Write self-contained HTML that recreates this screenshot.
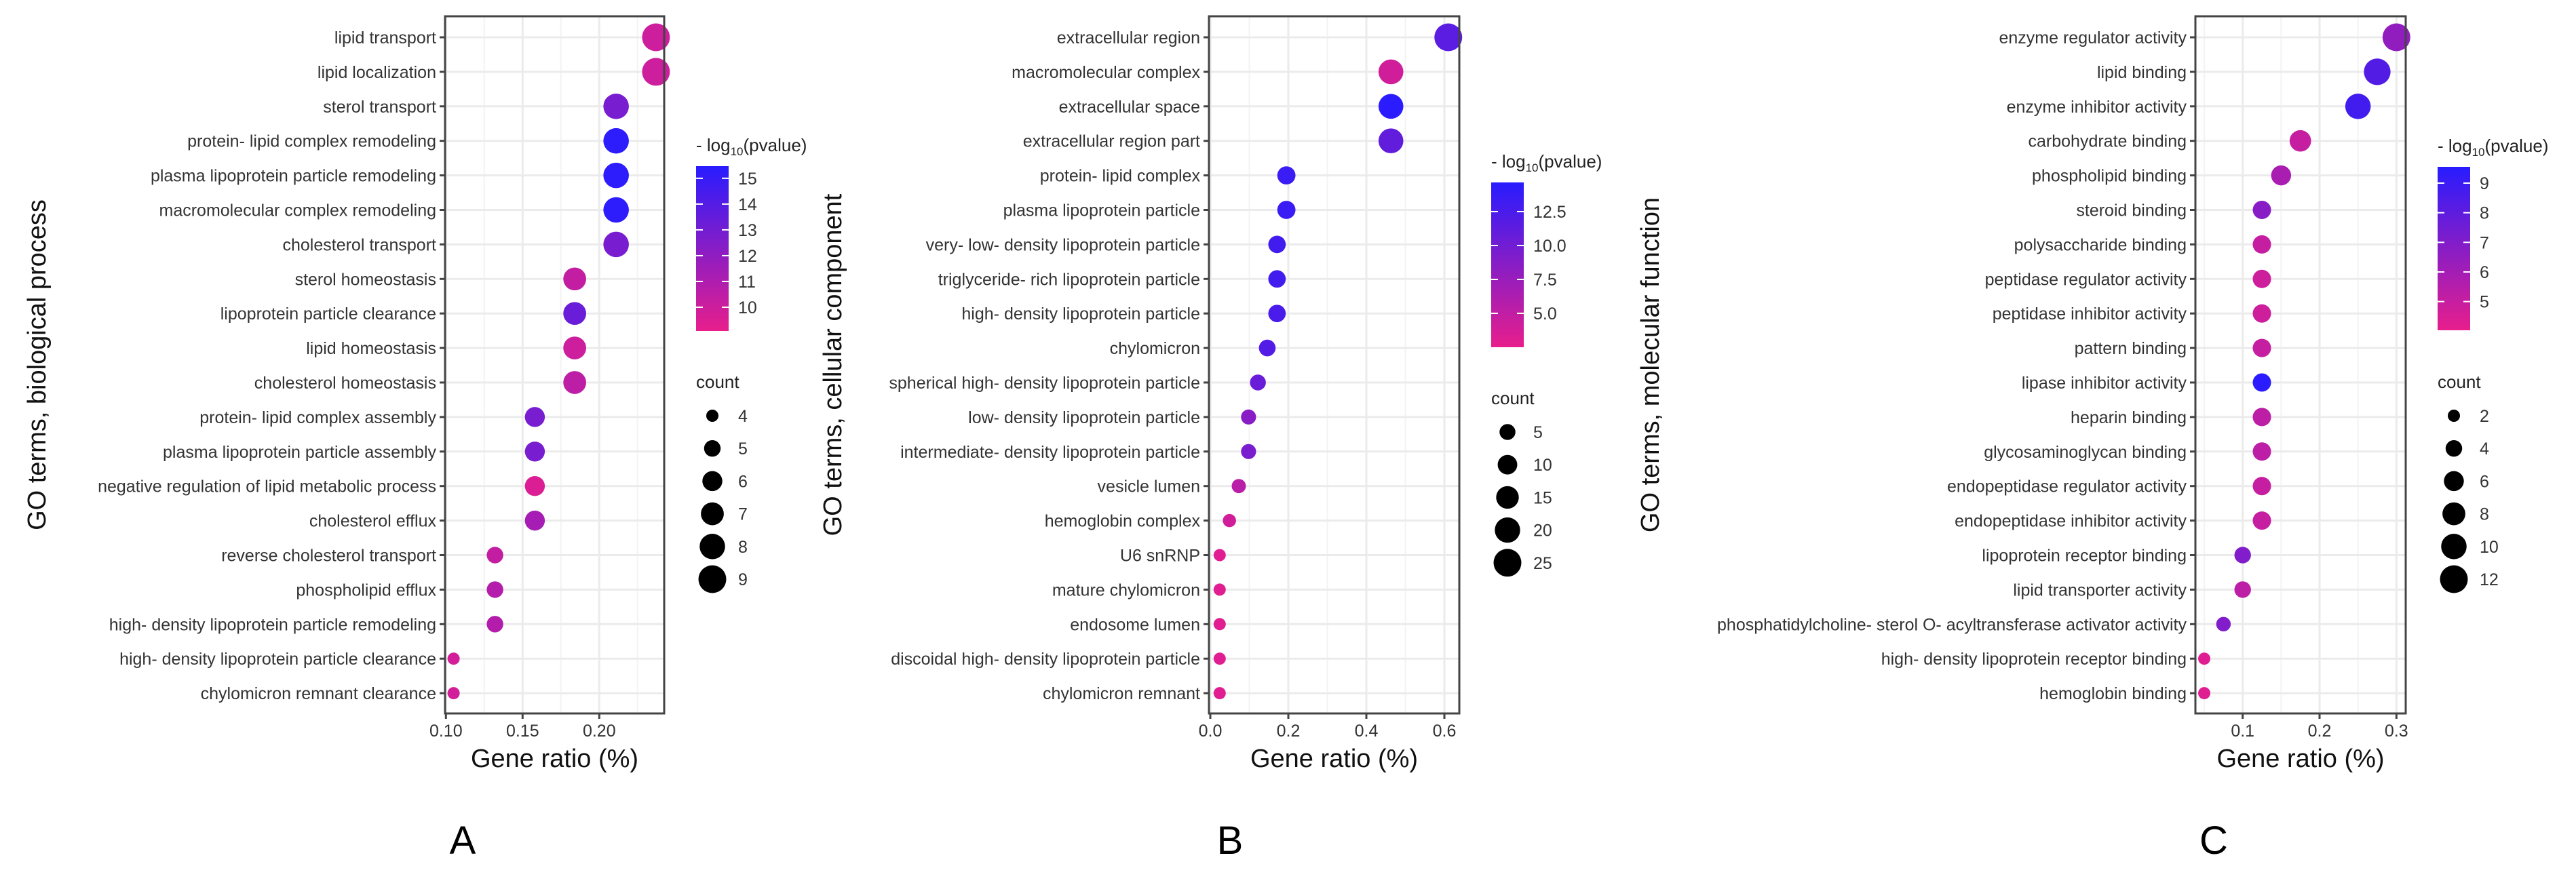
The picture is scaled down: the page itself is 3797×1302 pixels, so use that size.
<!DOCTYPE html>
<html><head><meta charset="utf-8"><style>
html,body{margin:0;padding:0;background:#fff;}
svg{display:block;font-family:"Liberation Sans",Arial,sans-serif;}
</style></head><body>
<svg id="fig" width="3797" height="1302" viewBox="0 0 3797 1302" xmlns="http://www.w3.org/2000/svg">
<defs>
<linearGradient id="cbar" x1="0" y1="1" x2="0" y2="0"><stop offset="0" stop-color="rgb(232,30,140)"/><stop offset="1" stop-color="rgb(40,28,255)"/></linearGradient>
<clipPath id="clipA"><rect x="1000" y="150" width="196" height="120"/></clipPath>
</defs>
</svg>
<script>
// ---------- Panel A data ----------
const termsA = ["lipid transport","lipid localization","sterol transport","protein- lipid complex remodeling","plasma lipoprotein particle remodeling","macromolecular complex remodeling","cholesterol transport","sterol homeostasis","lipoprotein particle clearance","lipid homeostasis","cholesterol homeostasis","protein- lipid complex assembly","plasma lipoprotein particle assembly","negative regulation of lipid metabolic process","cholesterol efflux","reverse cholesterol transport","phospholipid efflux","high- density lipoprotein particle remodeling","high- density lipoprotein particle clearance","chylomicron remnant clearance"];
const ratioA = [0.237,0.237,0.211,0.211,0.211,0.211,0.211,0.184,0.184,0.184,0.184,0.158,0.158,0.158,0.158,0.132,0.132,0.132,0.105,0.105];
const countA = [9,9,8,8,8,8,8,7,7,7,7,6,6,6,6,5,5,5,4,4];
const pvalA = [10.0,10.0,12.8,15.3,15.3,15.3,12.8,10.3,13.3,10.0,10.5,12.8,12.8,9.5,11.3,10.3,10.8,10.8,9.8,9.8];
const xTicksA = [0.10,0.15,0.20];
const xTickLabelsA = ["0.10","0.15","0.20"];
const cTicksA = [10,11,12,13,14,15];
const sizeBreaksA = [4,5,6,7,8,9];

// ---------- Panel B data ----------
const termsB = ["extracellular region","macromolecular complex","extracellular space","extracellular region part","protein- lipid complex","plasma lipoprotein particle","very- low- density lipoprotein particle","triglyceride- rich lipoprotein particle","high- density lipoprotein particle","chylomicron","spherical high- density lipoprotein particle","low- density lipoprotein particle","intermediate- density lipoprotein particle","vesicle lumen","hemoglobin complex","U6 snRNP","mature chylomicron","endosome lumen","discoidal high- density lipoprotein particle","chylomicron remnant"];
const ratioB = [0.61,0.463,0.463,0.463,0.195,0.195,0.171,0.171,0.171,0.146,0.122,0.098,0.098,0.073,0.049,0.024,0.024,0.024,0.024,0.024];
const countB = [25,19,19,19,8,8,7,7,7,6,5,4,4,3,2,1,1,1,1,1];
const pvalB = [11.5,4.0,14.5,11.0,13.5,13.5,13.0,13.0,12.5,12.0,10.5,8.5,9.5,5.5,4.0,3.0,3.0,3.0,3.0,3.0];
const xTicksB = [0.0,0.2,0.4,0.6];
const xTickLabelsB = ["0.0","0.2","0.4","0.6"];
const cTicksB = [5.0,7.5,10.0,12.5];
const cTickLabelsB = ["5.0","7.5","10.0","12.5"];
const sizeBreaksB = [5,10,15,20,25];

// ---------- Panel C data ----------
const termsC = ["enzyme regulator activity","lipid binding","enzyme inhibitor activity","carbohydrate binding","phospholipid binding","steroid binding","polysaccharide binding","peptidase regulator activity","peptidase inhibitor activity","pattern binding","lipase inhibitor activity","heparin binding","glycosaminoglycan binding","endopeptidase regulator activity","endopeptidase inhibitor activity","lipoprotein receptor binding","lipid transporter activity","phosphatidylcholine- sterol O- acyltransferase activator activity","high- density lipoprotein receptor binding","hemoglobin binding"];
const ratioC = [0.300,0.275,0.250,0.175,0.150,0.125,0.125,0.125,0.125,0.125,0.125,0.125,0.125,0.125,0.125,0.100,0.100,0.075,0.050,0.050];
const countC = [12,11,10,7,6,5,5,5,5,5,5,5,5,5,5,4,4,3,2,2];
const pvalC = [6.5,8.3,8.8,5.0,5.8,6.8,5.0,4.8,4.8,5.0,9.5,5.3,5.3,5.0,5.0,7.0,5.3,7.0,4.3,4.3];
const xTicksC = [0.1,0.2,0.3];
const xTickLabelsC = ["0.1","0.2","0.3"];
const cTicksC = [5,6,7,8,9];
const sizeBreaksC = [2,4,6,8,10,12];

const NS = "http://www.w3.org/2000/svg";
const svg = document.getElementById("fig");
function mk(tag, attrs, parent){
  const e = document.createElementNS(NS, tag);
  for (const k in attrs) e.setAttribute(k, attrs[k]);
  (parent||svg).appendChild(e);
  return e;
}
function colorFor(v, lo, hi){
  let t = (v-lo)/(hi-lo); t = Math.max(0, Math.min(1, t));
  const r = Math.round(232 + (40-232)*t), g = Math.round(30 + (28-30)*t), b = Math.round(140 + (255-140)*t);
  return "rgb("+r+","+g+","+b+")";
}
const ROW0 = 55, ROWSTEP = 50.9, BOXTOP = 24, BOXBOT = 1052;

function panel(cfg){
  const g = mk("g", {});
  
  
  const xs = v => cfg.x0 + (v - cfg.v0) * cfg.k;
  const ys = i => ROW0 + i * ROWSTEP;
  const rScale = c => { const t = (c - cfg.cmin)/(cfg.cmax - cfg.cmin); return Math.sqrt(81 + (420-81)*Math.max(0,t)); };
  // panel background
  mk("rect", {x:cfg.left, y:BOXTOP, width:cfg.right-cfg.left, height:BOXBOT-BOXTOP, fill:"#fff"}, g);
  // minor vertical grid
  cfg.minor.forEach(v => { const l = mk("line", {x1:xs(v), x2:xs(v), y1:BOXTOP, y2:BOXBOT, stroke:"#f3f3f3", "stroke-width":2}, g);
      });
  // major vertical grid
  cfg.xticks.forEach(v => { const l = mk("line", {x1:xs(v), x2:xs(v), y1:BOXTOP, y2:BOXBOT, stroke:"#ebebeb", "stroke-width":3}, g);
      });
  // horizontal grid per row
  cfg.terms.forEach((t,i) => { const l = mk("line", {x1:cfg.left, x2:cfg.right, y1:ys(i), y2:ys(i), stroke:"#ebebeb", "stroke-width":3}, g);
      });
  // points
  cfg.terms.forEach((t,i) => {
    const c = mk("circle", {cx:xs(cfg.ratio[i]), cy:ys(i), r:rScale(cfg.count[i]).toFixed(2), fill:colorFor(cfg.pval[i], cfg.plo, cfg.phi)}, g);
    
    
  });
  // box
  const box = mk("rect", {x:cfg.left, y:BOXTOP, width:cfg.right-cfg.left, height:BOXBOT-BOXTOP, fill:"none", stroke:"#444", "stroke-width":3}, g);
   
  // y ticks & labels
  cfg.terms.forEach((t,i) => {
    mk("line", {x1:cfg.left-8, x2:cfg.left, y1:ys(i), y2:ys(i), stroke:"#444", "stroke-width":3}, g);
    const tx = mk("text", {x:cfg.left-13, y:ys(i)+9, "text-anchor":"end", "font-size":25, fill:"#333"}, g);
    tx.textContent = t;
    
    
  });
  // x ticks & labels
  cfg.xticks.forEach((v,j) => {
    mk("line", {x1:xs(v), x2:xs(v), y1:BOXBOT, y2:BOXBOT+8, stroke:"#444", "stroke-width":3}, g);
    const tx = mk("text", {x:xs(v), y:1086, "text-anchor":"middle", "font-size":25, fill:"#333"}, g);
    tx.textContent = cfg.xlabels[j];
    
    
  });
  // axis titles
  const xt = mk("text", {x:(cfg.left+cfg.right)/2, y:1131, "text-anchor":"middle", "font-size":38, fill:"#111"}, g);
  xt.textContent = "Gene ratio (%)";
  
  
  const yt = mk("text", {x:0, y:0, "text-anchor":"middle", "font-size":38, fill:"#111", transform:"translate("+(cfg.ytitleX+13)+",538) rotate(-90)"}, g);
  yt.textContent = cfg.ytitle;
  
  
  // panel letter
  const pl = mk("text", {x:cfg.letterX, y:1259, "text-anchor":"middle", "font-size":58, fill:"#000"}, g);
  pl.textContent = cfg.letter;
  
  

  // colour legend
  const lg = mk("g", {}, g);
  
  
  const lt = mk("text", {x:cfg.barX, y:cfg.barTop-22, "font-size":26, fill:"#222"}, lg);
  if (cfg.clipTitle) lt.setAttribute("clip-path", "url(#clipA)");
  lt.innerHTML = '- log<tspan font-size="17" dy="6">10</tspan><tspan dy="-6">(pvalue)</tspan>';
  
  
  mk("rect", {x:cfg.barX, y:cfg.barTop, width:48, height:cfg.barBot-cfg.barTop, fill:"url(#cbar)"}, lg);
  const cy = v => cfg.barBot - (v - cfg.plo)/(cfg.phi - cfg.plo) * (cfg.barBot - cfg.barTop);
  cfg.cticks.forEach((v,j) => {
    mk("line", {x1:cfg.barX, x2:cfg.barX+10, y1:cy(v), y2:cy(v), stroke:"#fff", "stroke-width":2}, lg);
    mk("line", {x1:cfg.barX+38, x2:cfg.barX+48, y1:cy(v), y2:cy(v), stroke:"#fff", "stroke-width":2}, lg);
    const tx = mk("text", {x:cfg.barX+62, y:cy(v)+9, "font-size":25, fill:"#333"}, lg);
    tx.textContent = cfg.clabels[j];
    
    
  });
  // size legend
  const sg = mk("g", {}, g);
  
  
  const st = mk("text", {x:cfg.barX, y:cfg.countY+9, "font-size":26, fill:"#222"}, sg);
  st.textContent = "count";
  
  
  cfg.sbreaks.forEach((c,j) => {
    const yy = cfg.countY + 50 + j*48.2;
    const ci = mk("circle", {cx:cfg.barX+24, cy:yy, r:rScale(c).toFixed(2), fill:"#000"}, sg);
    
    
    const tx = mk("text", {x:cfg.barX+62, y:yy+9, "font-size":25, fill:"#333"}, sg);
    tx.textContent = String(c);
    
    
  });
}

panel({id:"panel-a", letter:"A", letterX:682, terms:termsA, ratio:ratioA, count:countA, pval:pvalA,
  left:656, right:979, x0:657.3, v0:0.10, k:2260, xticks:xTicksA, xlabels:xTickLabelsA, minor:[0.125,0.175,0.225],
  cmin:4, cmax:9, plo:9.08, phi:15.47, cticks:cTicksA, clabels:cTicksA.map(String), sbreaks:sizeBreaksA,
  barX:1026, barTop:245, barBot:488, countY:563, ytitle:"GO terms, biological process", ytitleX:54, clipTitle:true});
panel({id:"panel-b", letter:"B", letterX:1813, terms:termsB, ratio:ratioB, count:countB, pval:pvalB,
  left:1782, right:2151, x0:1784, v0:0.0, k:575, xticks:xTicksB, xlabels:xTickLabelsB, minor:[0.1,0.3,0.5],
  cmin:1, cmax:25, plo:2.5, phi:14.65, cticks:cTicksB, clabels:cTickLabelsB, sbreaks:sizeBreaksB,
  barX:2198, barTop:269, barBot:512, countY:587, ytitle:"GO terms, cellular component", ytitleX:1227});
panel({id:"panel-c", letter:"C", letterX:3263, terms:termsC, ratio:ratioC, count:countC, pval:pvalC,
  left:3236, right:3546, x0:3305.7, v0:0.1, k:1133, xticks:xTicksC, xlabels:xTickLabelsC, minor:[0.05,0.15,0.25],
  cmin:2, cmax:12, plo:4.03, phi:9.55, cticks:cTicksC, clabels:cTicksC.map(String), sbreaks:sizeBreaksC,
  barX:3593, barTop:246, barBot:487, countY:563, ytitle:"GO terms, molecular function", ytitleX:2432});
</script>
</body></html>
